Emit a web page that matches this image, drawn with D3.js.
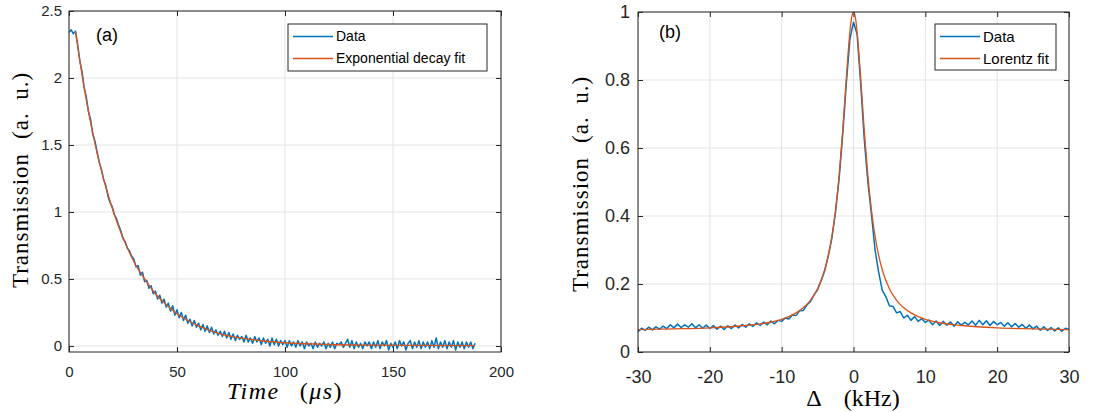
<!DOCTYPE html>
<html>
<head>
<meta charset="utf-8">
<script src="https://cdn.jsdelivr.net/npm/d3@7"></script>
<style>
  body { margin: 0; background: #fff; }
  svg { display: block; }
</style>
</head>
<body>
<script>
// (a) ring-down: samples every 1 us
const decayData = [
  2.34, 2.36, 2.33, 2.35, 2.25, 2.13, 2.05, 1.93, 1.86, 1.75,
  1.69, 1.58, 1.53, 1.45, 1.37, 1.32, 1.24, 1.20, 1.12, 1.07,
  1.04, 0.98, 0.95, 0.90, 0.86, 0.80, 0.78, 0.73, 0.71, 0.67,
  0.65, 0.59, 0.60, 0.53, 0.55, 0.48, 0.49, 0.43, 0.45, 0.39,
  0.41, 0.35, 0.38, 0.32, 0.35, 0.29, 0.32, 0.26, 0.30, 0.23,
  0.27, 0.21, 0.25, 0.19, 0.23, 0.17, 0.20, 0.15, 0.19, 0.14,
  0.17, 0.12, 0.16, 0.11, 0.15, 0.10, 0.14, 0.09, 0.12, 0.08,
  0.11, 0.07, 0.11, 0.06, 0.10, 0.05, 0.09, 0.04, 0.08, 0.05,
  0.07, 0.03, 0.08, 0.03, 0.06, 0.02, 0.07, 0.03, 0.06, 0.01,
  0.06, 0.02, 0.05, 0.00, 0.06, 0.01, 0.05, 0.00, 0.04, 0.01,
  0.04, -0.01, 0.04, 0.00, 0.03, -0.01, 0.04, 0.00, 0.03, -0.02,
  0.03, 0.00, 0.02, -0.02, 0.03, -0.01, 0.02, 0.00, 0.03, -0.02,
  0.02, -0.01, 0.03, -0.02, 0.02, 0.01, 0.03, -0.01, 0.02, 0.05,
  -0.01, 0.04, -0.02, 0.03, -0.01, 0.02, -0.02, 0.03, 0.00, 0.03,
  -0.02, 0.03, -0.01, 0.04, -0.02, 0.03, 0.00, 0.04, -0.03, 0.02,
  -0.01, 0.03, -0.02, 0.04, 0.00, 0.03, -0.03, 0.02, 0.04, -0.02,
  0.03, -0.01, 0.04, -0.02, 0.03, -0.01, 0.03, -0.02, 0.04, -0.01,
  0.06, -0.02, 0.03, -0.01, 0.04, -0.02, 0.03, -0.01, 0.04, -0.03,
  0.03, -0.01, 0.03, -0.02, 0.03, -0.01, 0.03, -0.02, 0.02
];
const decayStep = 1; // us

const decayFitTime  = [3, 5, 7, 9, 11, 13, 15, 17, 20, 23, 26, 30, 35, 40, 45, 50, 55, 60, 70, 80, 90, 100, 120, 140, 160, 188];
const decayFitValue = [2.35, 2.13, 1.93, 1.75, 1.59, 1.44, 1.31, 1.19, 1.03, 0.89, 0.77, 0.63, 0.50, 0.39, 0.31, 0.24, 0.19, 0.15, 0.09, 0.058, 0.037, 0.024, 0.011, 0.006, 0.004, 0.003];

// (b) transmission spectrum: samples every 0.5 kHz from -30 kHz
const lorentzData = [
  0.060, 0.070, 0.064, 0.073, 0.065, 0.074, 0.067, 0.076, 0.069, 0.080,
  0.071, 0.082, 0.072, 0.080, 0.073, 0.083, 0.071, 0.080, 0.070, 0.079,
  0.069, 0.078, 0.067, 0.076, 0.066, 0.077, 0.069, 0.079, 0.071, 0.081,
  0.073, 0.083, 0.075, 0.086, 0.078, 0.088, 0.080, 0.091, 0.083, 0.093,
  0.090, 0.100, 0.097, 0.109, 0.107, 0.121, 0.122, 0.138, 0.148, 0.168,
  0.183, 0.210, 0.240, 0.284, 0.336, 0.412, 0.510, 0.640, 0.790, 0.920,
  0.970,
  0.935, 0.790, 0.625, 0.500, 0.405, 0.300, 0.235, 0.182, 0.163, 0.136,
  0.134, 0.115, 0.119, 0.100, 0.108, 0.093, 0.104, 0.090, 0.098, 0.087,
  0.094, 0.080, 0.091, 0.078, 0.090, 0.079, 0.088, 0.076, 0.089, 0.079,
  0.087, 0.080, 0.091, 0.079, 0.093, 0.080, 0.092, 0.078, 0.090, 0.080,
  0.087, 0.076, 0.086, 0.074, 0.084, 0.073, 0.081, 0.070, 0.079, 0.068,
  0.076, 0.064, 0.074, 0.063, 0.072, 0.062, 0.071, 0.061, 0.070, 0.066
];
const lorentzStart = -30, lorentzStep = 0.5; // kHz

const lorentzFitDelta = [-30, -25, -20, -15, -12, -10, -8, -7, -6, -5, -4, -3.5, -3, -2.5, -2, -1.5, -1, -0.75, -0.5, -0.25, 0,
                         0.25, 0.5, 0.75, 1, 1.5, 2, 2.5, 3, 3.5, 4, 5, 6, 7, 8, 10, 12, 15, 20, 25, 30];
const lorentzFitValue = [0.066, 0.068, 0.071, 0.078, 0.086, 0.096, 0.115, 0.130, 0.152, 0.186, 0.242, 0.284, 0.341, 0.417, 0.519, 0.651, 0.805, 0.879, 0.942, 0.985, 1.000,
                         0.985, 0.942, 0.879, 0.805, 0.651, 0.519, 0.417, 0.341, 0.284, 0.242, 0.186, 0.152, 0.130, 0.115, 0.096, 0.086, 0.078, 0.071, 0.068, 0.066];

const decayXTicks = [0, 50, 100, 150, 200];
const decayYTicks = [0, 0.5, 1, 1.5, 2, 2.5];
const lorentzXTicks = [-30, -20, -10, 0, 10, 20, 30];
const lorentzYTicks = [0, 0.2, 0.4, 0.6, 0.8, 1];

const style = {
  blue: "#0072BD",
  orange: "#D95319",
  axis: "#262626",
  grid: "#e3e3e3",
  tickFont: "'Liberation Sans', Arial, sans-serif",
  labelFont: "'Liberation Serif', 'Times New Roman', serif"
};

const svg = d3.select("body").append("svg")
  .attr("width", 1098)
  .attr("height", 412);

function drawPanel(cfg) {
  const x = d3.scaleLinear().domain(cfg.xDomain).range([cfg.left, cfg.right]);
  const y = d3.scaleLinear().domain(cfg.yDomain).range([cfg.bottom, cfg.top]);
  const g = svg.append("g");

  //grid
  g.selectAll(".gx").data(cfg.xTicks).enter().append("line")
    .attr("x1", d => x(d)).attr("x2", d => x(d))
    .attr("y1", cfg.top).attr("y2", cfg.bottom)
    .attr("stroke", style.grid).attr("stroke-width", 1);
  g.selectAll(".gy").data(cfg.yTicks).enter().append("line")
    .attr("x1", cfg.left).attr("x2", cfg.right)
    .attr("y1", d => y(d)).attr("y2", d => y(d))
    .attr("stroke", style.grid).attr("stroke-width", 1);

  //clip
  const clipId = "clip-" + cfg.id;
  svg.append("clipPath").attr("id", clipId).append("rect")
    .attr("x", cfg.left).attr("y", cfg.top)
    .attr("width", cfg.right - cfg.left).attr("height", cfg.bottom - cfg.top);

  const line = d3.line().x(d => x(d[0])).y(d => y(d[1]));
  const smooth = d3.line().x(d => x(d[0])).y(d => y(d[1])).curve(d3.curveMonotoneX);

  const plot = g.append("g").attr("clip-path", `url(#${clipId})`);
  plot.append("path")
    .attr("d", line(cfg.data))
    .attr("fill", "none").attr("stroke", style.blue).attr("stroke-width", 1.5)
    .attr("stroke-linejoin", "round");
  plot.append("path")
    .attr("d", smooth(cfg.fit))
    .attr("fill", "none").attr("stroke", style.orange).attr("stroke-width", 1.3);

  //axes with inward ticks on all four sides
  const fmt = d => String(d);
  const axes = [
    [d3.axisBottom(x).tickValues(cfg.xTicks).tickFormat(fmt).tickPadding(cfg.xPad), `translate(0,${cfg.bottom})`],
    [d3.axisTop(x).tickValues(cfg.xTicks).tickFormat(""), `translate(0,${cfg.top})`],
    [d3.axisLeft(y).tickValues(cfg.yTicks).tickFormat(fmt).tickPadding(cfg.yPad), `translate(${cfg.left},0)`],
    [d3.axisRight(y).tickValues(cfg.yTicks).tickFormat(""), `translate(${cfg.right},0)`]
  ];
  axes.forEach(([ax, tr]) => {
    const a = g.append("g").attr("transform", tr)
      .call(ax.tickSizeInner(-5).tickSizeOuter(0));
    a.select(".domain").remove();
    a.selectAll("line").attr("stroke", style.axis);
    a.selectAll("text")
      .attr("fill", style.axis)
      .attr("font-family", style.tickFont)
      .attr("font-size", cfg.tickSize);
  });

  g.append("rect")
    .attr("x", cfg.left).attr("y", cfg.top)
    .attr("width", cfg.right - cfg.left).attr("height", cfg.bottom - cfg.top)
    .attr("fill", "none").attr("stroke", style.axis).attr("stroke-width", 1);

  //panel letter
  g.append("text")
    .attr("x", cfg.tag.x).attr("y", cfg.tag.y)
    .attr("font-family", style.tickFont).attr("font-size", 18)
    .attr("fill", "#000")
    .text(cfg.tag.text);

  //legend
  const lg = cfg.legend;
  g.append("rect")
    .attr("x", lg.x).attr("y", lg.y).attr("width", lg.w).attr("height", lg.h)
    .attr("fill", "#fff").attr("stroke", style.axis).attr("stroke-width", 1);
  lg.items.forEach((it, i) => {
    const yy = lg.y + 12.5 + i * 22;
    g.append("line")
      .attr("x1", lg.x + 5).attr("x2", lg.x + 45)
      .attr("y1", yy).attr("y2", yy)
      .attr("stroke", it.color).attr("stroke-width", 1.3);
    g.append("text")
      .attr("x", lg.x + 48).attr("y", yy)
      .attr("dy", "0.35em")
      .attr("font-family", style.tickFont).attr("font-size", lg.fontSize)
      .attr("fill", "#000")
      .text(it.label);
  });

  //y label
  const yl = g.append("text")
    .attr("transform", `translate(${cfg.yLabel.x},${cfg.yLabel.y}) rotate(-90)`)
    .attr("text-anchor", "middle")
    .attr("font-family", style.labelFont).attr("font-size", 23)
    .attr("letter-spacing", 1)
    .attr("fill", "#000");
  yl.append("tspan").text("Transmission");
  yl.append("tspan").attr("dx", 14).text("(a.\u2002u.)");

  //x label
  const xl = g.append("text")
    .attr("x", cfg.xLabel.x).attr("y", cfg.xLabel.y)
    .attr("text-anchor", "middle")
    .attr("font-family", style.labelFont).attr("font-size", 24)
    .attr("letter-spacing", cfg.xLabel.spacing)
    .attr("fill", "#000");
  cfg.xLabel.parts.forEach(p => {
    const t = xl.append("tspan").text(p.text);
    if (p.dx) t.attr("dx", p.dx);
    if (p.italic) t.attr("font-style", "italic");
  });
}

drawPanel({
  id: "a",
  left: 69, right: 501, top: 11, bottom: 352,
  xDomain: [0, 200], yDomain: [-0.045, 2.5],
  xTicks: decayXTicks, yTicks: decayYTicks,
  xPad: 14, yPad: 7, tickSize: 15,
  data: decayData.map((v, i) => [i * decayStep, v]),
  fit: decayFitTime.map((t, i) => [t, decayFitValue[i]]),
  tag: { x: 96, y: 41, text: "(a)" },
  legend: {
    x: 288, y: 24, w: 199, h: 47, fontSize: 14,
    items: [{ label: "Data", color: style.blue }, { label: "Exponential decay fit", color: style.orange }]
  },
  yLabel: { x: 28, y: 180 },
  xLabel: { x: 285, y: 399, spacing: 1.5, parts: [
    { text: "Time", italic: true },
    { text: "(", dx: 20 },
    { text: "μs", italic: true },
    { text: ")" }
  ] }
});

drawPanel({
  id: "b",
  left: 638, right: 1069, top: 12, bottom: 352,
  xDomain: [-30, 30], yDomain: [0, 1],
  xTicks: lorentzXTicks, yTicks: lorentzYTicks,
  xPad: 18, yPad: 8, tickSize: 18,
  data: lorentzData.map((v, i) => [lorentzStart + i * lorentzStep, v]),
  fit: lorentzFitDelta.map((d, i) => [d, lorentzFitValue[i]]),
  tag: { x: 659, y: 38, text: "(b)" },
  legend: {
    x: 935, y: 24, w: 121, h: 46, fontSize: 15,
    items: [{ label: "Data", color: style.blue }, { label: "Lorentz fit", color: style.orange }]
  },
  yLabel: { x: 588, y: 184 },
  xLabel: { x: 853, y: 406, spacing: 0, parts: [
    { text: "Δ" },
    { text: "(kHz)", dx: 22 }
  ] }
});
</script>
</body>
</html>
